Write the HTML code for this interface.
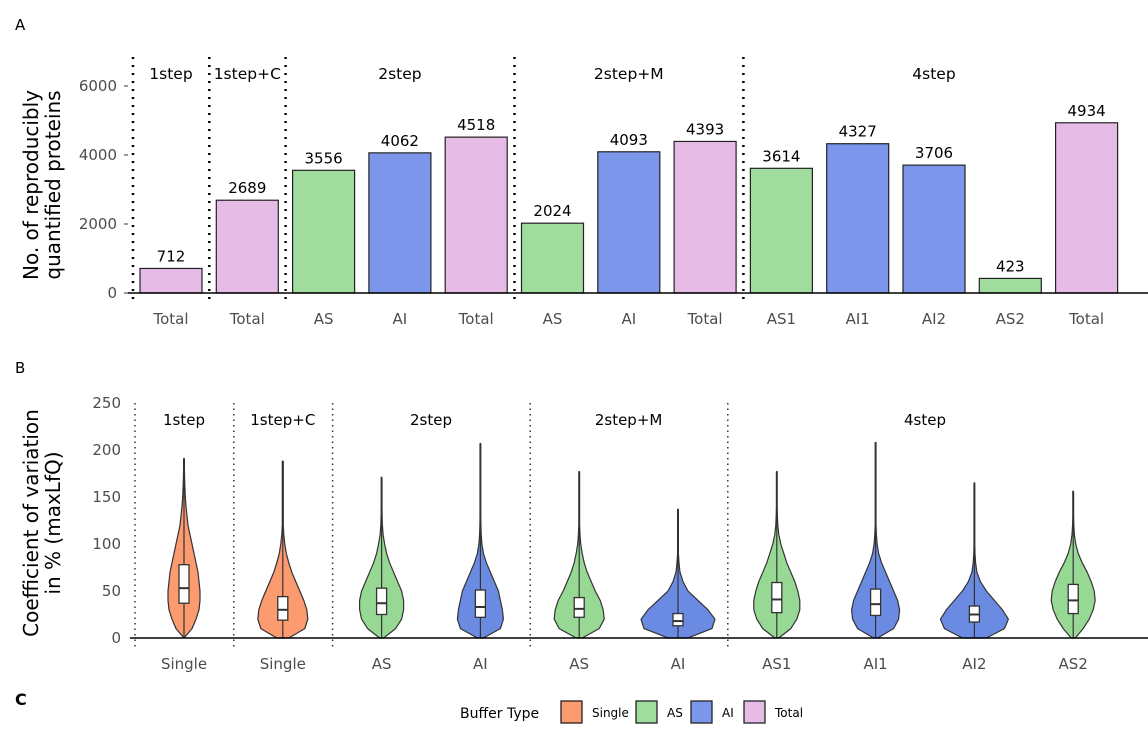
<!DOCTYPE html>
<html><head><meta charset="utf-8"><style>
body{margin:0;background:#fff}
svg{display:block;font-family:"DejaVu Sans","Liberation Sans",sans-serif}
</style></head><body>
<svg id="c" width="1148" height="729" viewBox="0 0 1148 729">
<g id="pa"></g>
<g id="pb"></g>
<g id="lg"></g>
</svg>
<script>
// Panel A data
const barCats = ["Total","Total","AS","AI","Total","AS","AI","Total","AS1","AI1","AI2","AS2","Total"];
const barVals = [712,2689,3556,4062,4518,2024,4093,4393,3614,4327,3706,423,4934];
const barTypes = ["Total","Total","AS","AI","Total","AS","AI","Total","AS","AI","AI","AS","Total"];
const facetsA = ["1step","1step+C","2step","2step+M","4step"];
const facetStartA = [0,1,2,5,8];
const yTicksA = [0,2000,4000,6000];
// Panel B data
const vCats = ["Single","Single","AS","AI","AS","AI","AS1","AI1","AI2","AS2"];
const vTypes = ["Single","Single","AS","AI","AS","AI","AS","AI","AI","AS"];
const vMax = [191,188,171,207,177,137,177,208,165,156];
const vQ1 = [37,19,25,22,22,13,27,24,17,26];
const vMed = [53,30,37,33,31,18,41,36,25,40];
const vQ3 = [78,44,53,51,43,26,59,52,34,57];
// half-width densities sampled every 10 units starting at 0
const vDens = [
 [0,8,12,15,16,16,15,14,12,10,8,6,4,3,2,1.3,0.9,0.6,0.4],
 [6,22,25,24,21,17,13,9,6,3.5,2,1,0.5],
 [2,14,20,22,22,20,16,12,8,5,3,1.5,0.8,0.5,0.4],
 [3,20,23,22,20,18,14,10,6,3,1.5,0.8,0.5,0.4],
 [3,20,25,24,21,16,12,8,5,3,1.5,0.8,0.4],
 [10,34,37,30,20,10,5,2,1,0.4],
 [2,14,20,23,23,21,18,14,10,7,4,2,1,0.6,0.4],
 [2,18,23,24,22,18,14,10,6,3,1.5,0.8,0.4],
 [12,30,34,28,20,12,6,2.5,1.2,0.6,0.4],
 [2,10,16,20,22,21,18,14,9,5,2.5,1.2,0.6,0.4]
];
const facetsB = ["1step","1step+C","2step","2step+M","4step"];
const facetStartB = [0,1,2,4,6];
const yTicksB = [0,50,100,150,200,250];
const colors = {Single:"#fc9a70",AS:"#a1dc9f",AI:"#7b96ea",Total:"#e6bce6"};
const vcolors = {Single:"#fc9a70",AS:"#98d895",AI:"#6b8be3"};
const legendKeys = ["Single","AS","AI","Total"];

const NS="http://www.w3.org/2000/svg";
function mk(p,t,a,txt){const e=document.createElementNS(NS,t);for(const k in a)e.setAttribute(k,a[k]);if(txt!==undefined)e.textContent=txt;p.appendChild(e);return e;}

// ---------- Panel A ----------
const pa=document.getElementById('pa');
const xA=i=>171+76.3*i, yA=v=>293-v*207/6000;
let t=mk(pa,'text',{x:15,y:30,'font-size':15},'A');


yTicksA.forEach(v=>{
 let tl=mk(pa,'text',{x:117,y:yA(v)+5,'font-size':15,fill:'#4d4d4d','text-anchor':'end'},v);
 
 
 mk(pa,'line',{x1:124,x2:128,y1:yA(v),y2:yA(v),stroke:'#333'});
});
t=mk(pa,'text',{transform:'translate(44,185) rotate(-90)','font-size':20,'text-anchor':'middle'});


mk(t,'tspan',{x:0,dy:-6},'No. of reproducibly');
mk(t,'tspan',{x:0,dy:22},'quantified proteins');
barVals.forEach((v,i)=>{
 const r=mk(pa,'rect',{x:xA(i)-31,y:yA(v),width:62,height:yA(0)-yA(v),fill:colors[barTypes[i]],stroke:'#222','stroke-width':1.2});
 
 
 const lb=mk(pa,'text',{x:xA(i),y:yA(v)-7,'font-size':15,'text-anchor':'middle'},v);
 
 
 const xl=mk(pa,'text',{x:xA(i),y:324,'font-size':15,fill:'#4d4d4d','text-anchor':'middle'},barCats[i]);
 
 
});
mk(pa,'line',{x1:128,x2:1148,y1:293,y2:293,stroke:'#000','stroke-width':1.5});
facetStartA.forEach((s,k)=>{
 const x=xA(s)-38;
 const ln=mk(pa,'line',{x1:x,x2:x,y1:57,y2:305,stroke:'#000','stroke-width':2.5,'stroke-dasharray':'2 6'});
 
 
 const e=k<facetStartA.length-1?facetStartA[k+1]:barVals.length;
 const cx=(xA(s)+xA(e-1))/2;
 const ft=mk(pa,'text',{x:cx,y:79,'font-size':15.5,'text-anchor':'middle'},facetsA[k]);
 
 
});

// ---------- Panel B ----------
const pb=document.getElementById('pb');
const xB=i=>184+98.8*i, yB=v=>638-v*0.94;
t=mk(pb,'text',{x:15,y:373,'font-size':15},'B');


yTicksB.forEach(v=>{
 let tl=mk(pb,'text',{x:121,y:yB(v)+5,'font-size':15,fill:'#4d4d4d','text-anchor':'end'},v);
 
 
});
t=mk(pb,'text',{transform:'translate(44,523) rotate(-90)','font-size':20,'text-anchor':'middle'});


mk(t,'tspan',{x:0,dy:-6},'Coefficient of variation');
mk(t,'tspan',{x:0,dy:22},'in % (maxLfQ)');
vCats.forEach((c,i)=>{
 const cx=xB(i), d=vDens[i], mx=vMax[i];
 const pts=[];
 for(let v=0;v<=mx;v+=2){
  const f=v/10, k=Math.floor(f);
  let w;
  if(k>=d.length-1) w=d[d.length-1]; else w=d[k]+(d[k+1]-d[k])*(f-k);
  pts.push([v,w]);
 }
 pts.push([mx,0.3]);
 let p='M'+cx+','+yB(0);
 pts.forEach(q=>p+='L'+(cx+q[1])+','+yB(q[0]));
 for(let j=pts.length-1;j>=0;j--)p+='L'+(cx-pts[j][1])+','+yB(pts[j][0]);
 p+='Z';
 const vi=mk(pb,'path',{d:p,fill:vcolors[vTypes[i]],stroke:'#333','stroke-width':1.2,'stroke-linejoin':'round'});
 
 
 mk(pb,'line',{x1:cx,x2:cx,y1:yB(0),y2:yB(mx),stroke:'#333','stroke-width':1.2});
 const bx=mk(pb,'rect',{x:cx-5,y:yB(vQ3[i]),width:10,height:yB(vQ1[i])-yB(vQ3[i]),fill:'#fff',stroke:'#333','stroke-width':1.3});
 
 
 mk(pb,'line',{x1:cx-5,x2:cx+5,y1:yB(vMed[i]),y2:yB(vMed[i]),stroke:'#333','stroke-width':2});
 const xl=mk(pb,'text',{x:cx,y:669,'font-size':15,fill:'#4d4d4d','text-anchor':'middle'},c);
 
 
});
mk(pb,'line',{x1:130,x2:1148,y1:638,y2:638,stroke:'#000','stroke-width':1.5});
facetStartB.forEach((s,k)=>{
 const x=xB(s)-49;
 const ln=mk(pb,'line',{x1:x,x2:x,y1:403,y2:648,stroke:'#333','stroke-width':1.5,'stroke-dasharray':'1.5 4'});
 
 
 const e=k<facetStartB.length-1?facetStartB[k+1]:vCats.length;
 const cx=(xB(s)+xB(e-1))/2;
 const ft=mk(pb,'text',{x:cx,y:425,'font-size':15,'text-anchor':'middle'},facetsB[k]);
 
 
});

// ---------- Legend ----------
const lg=document.getElementById('lg');
t=mk(lg,'text',{x:15,y:705,'font-size':16,'font-weight':'bold'},'C');


t=mk(lg,'text',{x:460,y:718,'font-size':14},'Buffer Type');


const lx=[561,636,691,744];
legendKeys.forEach((k,i)=>{
 const r=mk(lg,'rect',{x:lx[i],y:701,width:21,height:22,fill:colors[k],stroke:'#222','stroke-width':1.3});
 
 
 const tx=mk(lg,'text',{x:lx[i]+31,y:717,'font-size':12},k);
 
 
});
</script>
</body></html>
